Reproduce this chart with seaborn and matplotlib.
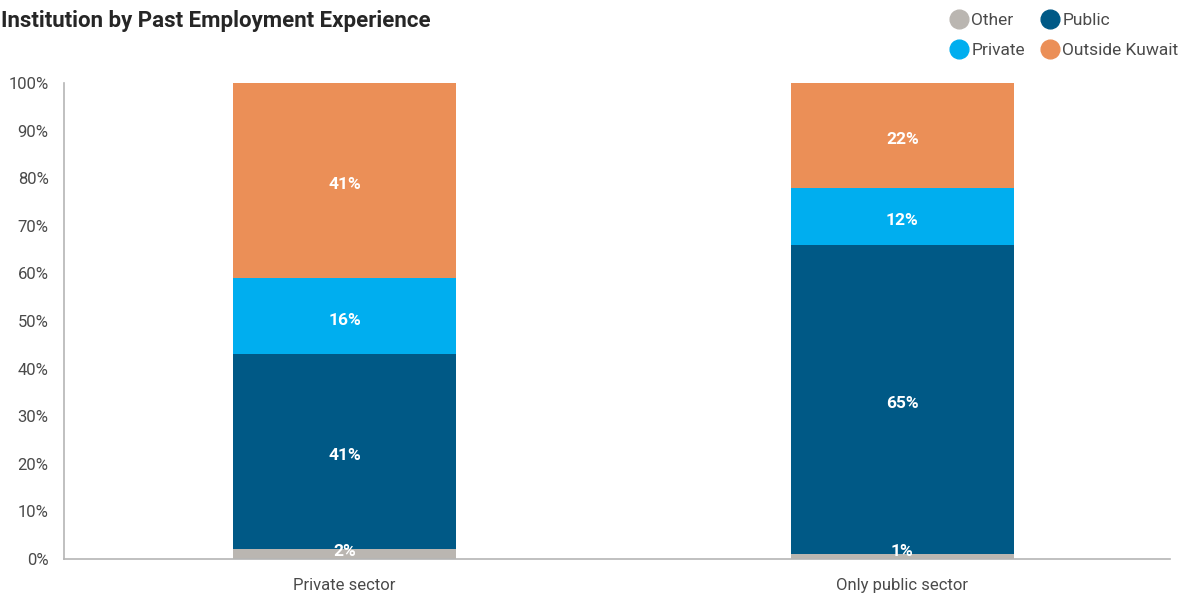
import numpy as np
import pandas as pd
import matplotlib
matplotlib.use("Agg")
import matplotlib.pyplot as plt
import seaborn as sns
from matplotlib.lines import Line2D

categories = ["Private sector", "Only public sector"]
series = ["Other", "Public", "Private", "Outside Kuwait"]
other = [2, 1]
public = [41, 65]
private = [16, 12]
outside = [41, 22]
colors = {"Other": "#bab6b1", "Public": "#005986", "Private": "#00aeef",
          "Outside Kuwait": "#eb8f57"}
yticks = [0, 10, 20, 30, 40, 50, 60, 70, 80, 90, 100]

sns.set_theme(style="white")
plt.rcParams["font.family"] = ["Roboto", "DejaVu Sans"]

df = pd.DataFrame({"category": categories, "Other": other, "Public": public,
                   "Private": private, "Outside Kuwait": outside})

fig = plt.figure(figsize=(11.94, 5.96), dpi=100)
ax = fig.add_axes([0.0536, 0.0621, 0.9264, 0.7986])

bottom = np.zeros(len(categories))
for name in series:
    vals = df[name].to_numpy(dtype=float)
    sns.barplot(data=df, x="category", y=name, color=colors[name], width=0.4,
                bottom=bottom, ax=ax, saturation=1, linewidth=0)
    for i, v in enumerate(vals):
        yc = bottom[i] + v / 2 - 0.8
        if v < 3:
            yc = bottom[i] + 1.5
        ax.text(i, yc, f"{v:.0f}%", ha="center", va="center", color="white",
                fontsize=12.5, fontweight="bold")
    bottom = bottom + vals

ax.set_ylim(0, 100)
ax.set_xlim(-0.503, 1.48)
ax.set_yticks(yticks)
ax.set_yticklabels([f"{t}%" for t in yticks])
ax.set_xlabel("")
ax.set_ylabel("")
ax.tick_params(axis="both", length=0, labelsize=12, labelcolor="#4a4a4a")
ax.tick_params(axis="x", pad=14)
ax.tick_params(axis="y", pad=11)
for s in ["top", "right"]:
    ax.spines[s].set_visible(False)
for s in ["left", "bottom"]:
    ax.spines[s].set_color("#b5b5b5")
    ax.spines[s].set_linewidth(1.2)

fig.text(0.001, 0.965, "Institution by Past Employment Experience",
         fontsize=16, fontweight="bold", color="#262626", ha="left", va="center")

handles = [Line2D([0], [0], marker="o", linestyle="", markersize=13.5,
                  markerfacecolor=colors[n], markeredgecolor=colors[n], label=n)
           for n in ["Other", "Private", "Public", "Outside Kuwait"]]
fig.legend(handles=handles, ncol=2, loc="upper right",
           bbox_to_anchor=(1.0, 1.004), frameon=False, fontsize=12.5,
           handletextpad=0.15, columnspacing=0.9, labelspacing=0.85,
           labelcolor="#4a4a4a", handlelength=1.1)

fig.savefig("out.png", dpi=100)
